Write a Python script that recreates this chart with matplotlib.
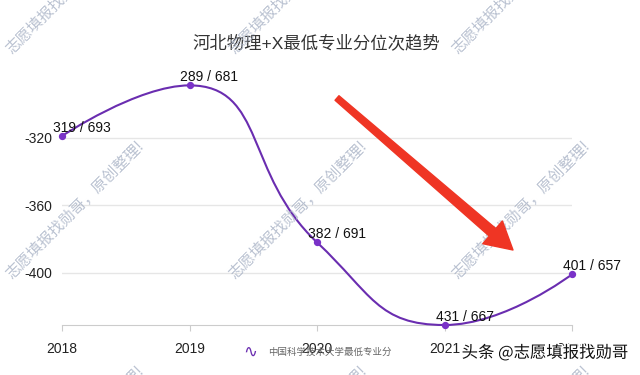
import matplotlib
matplotlib.use("Agg")
import matplotlib.pyplot as plt
import numpy as np
from matplotlib.path import Path
from matplotlib.patches import PathPatch, Polygon
import matplotlib.patheffects as pe

plt.rcParams['font.family'] = ['Liberation Sans', 'Noto Sans CJK SC', 'DejaVu Sans']
plt.rcParams['axes.unicode_minus'] = False

# data
years = [2018, 2019, 2020, 2021, 2022]
ranks = [319, 289, 382, 431, 401]
scores = [693, 681, 691, 667, 657]
values = [-r for r in ranks]
title = '河北物理+X最低专业分位次趋势'
series_name = '中国科学技术大学最低专业分'
watermark = '志愿填报找勋哥，原创整理!'

purple = '#6a2db0'
dot = '#7a32c8'

fig = plt.figure(figsize=(6.4, 3.75), dpi=100)
ax = fig.add_axes([62 / 640, 1 - 325 / 375, 510 / 640, 254.8 / 375])
ax.set_xlim(2018, 2022)
ax.set_ylim(-431, -280)

ax.set_yticks([-400, -360, -320])
ax.set_xticks(years)
ax.grid(axis='y', color='#e6e6e6', lw=1)
ax.set_axisbelow(True)
for s in ['top', 'right', 'left']:
    ax.spines[s].set_visible(False)
ax.spines['bottom'].set_color('#cccccc')
ax.tick_params(axis='y', length=0, pad=7, labelsize=10, labelcolor='#222222')
ax.tick_params(axis='x', length=4, color='#cccccc', pad=8, labelsize=10, labelcolor='#222222')


# echarts style smooth bezier, worked out in display space
def smooth_path(xs, ys, smooth=0.5):
    P = ax.transData.transform(np.column_stack([xs, ys]))
    n = len(P)
    cp_before = [None] * n
    cp_after = [None] * n
    cp_after[0] = P[0].copy()
    cp_before[n - 1] = P[n - 1].copy()
    for i in range(1, n - 1):
        prev, cur, nxt = P[i - 1], P[i], P[i + 1]
        v = nxt - prev
        l0 = np.hypot(*(cur - prev))
        l1 = np.hypot(*(nxt - cur))
        r = l1 / (l0 + l1)
        na = cur + v * smooth * r
        na = np.minimum(na, np.maximum(nxt, cur))
        na = np.maximum(na, np.minimum(nxt, cur))
        cb = cur - (na - cur) * l0 / l1
        cb = np.minimum(cb, np.maximum(prev, cur))
        cb = np.maximum(cb, np.minimum(prev, cur))
        na = cur + (cur - cb) * l1 / l0
        cp_before[i] = cb
        cp_after[i] = na
    verts = [P[0]]
    codes = [Path.MOVETO]
    for i in range(n - 1):
        verts += [cp_after[i], cp_before[i + 1], P[i + 1]]
        codes += [Path.CURVE4] * 3
    verts = ax.transData.inverted().transform(np.array(verts))
    return Path(verts, codes)


ax.add_patch(PathPatch(smooth_path(years, values), fill=False, edgecolor=purple,
                       lw=1.5, clip_on=False, zorder=3))
ax.scatter(years, values, s=18, color=dot, zorder=4, clip_on=False)

for x, y, r, sc in zip(years, values, ranks, scores):
    ax.annotate(f'{r} / {sc}', (x, y), xytext=(-9, 4), textcoords='offset pixels',
                ha='left', va='baseline', fontsize=10, color='#111111', zorder=5)

fig.text(316 / 640, 1 - 43 / 375, title, ha='center', va='center', fontsize=12.5,
         color='#333333')

# legend
fig.text(250 / 640, 1 - 352 / 375, '∿', ha='center', va='center', fontsize=12,
         color=purple, family='DejaVu Sans')
fig.text(268 / 640, 1 - 352 / 375, series_name, ha='left', va='center', fontsize=6.8,
         color='#666666')

# watermarks
for wy in [55, 280, 505]:
    for wx in [-211, 12, 235, 458]:
        fig.text(wx / 640, 1 - wy / 375, watermark, rotation=45, rotation_mode='anchor',
                 ha='left', va='baseline', fontsize=11, color='#a9b3c6', alpha=0.8,
                 family=['Noto Sans CJK SC', 'DejaVu Sans'], zorder=6)

# red arrow (figure pixel coords)
tail = np.array([337.0, 98.0])
tip = np.array([513.0, 250.0])
d = tip - tail
u = d / np.hypot(*d)
nrm = np.array([-u[1], u[0]])
head_len, head_w = 27, 15
w0, w1 = 3, 5
base = tip - u * head_len
pts = [tail + nrm * w0, base + nrm * w1, base + nrm * head_w, tip,
       base - nrm * head_w, base - nrm * w1, tail - nrm * w0]
pts = np.array([[p[0] / 640, 1 - p[1] / 375] for p in pts])
fig.patches.append(Polygon(pts, closed=True, transform=fig.transFigure,
                           facecolor='#ef3524', edgecolor='#ef3524', lw=1,
                           joinstyle='round', zorder=7))

fig.text(628 / 640, 1 - 353 / 375, '头条 @志愿填报找勋哥', ha='right', va='center',
         fontsize=11.8, color='#111111', family=['Noto Sans CJK SC', 'DejaVu Sans'],
         path_effects=[pe.withStroke(linewidth=2, foreground='white')], zorder=8)

fig.savefig('out.png', dpi=100)
